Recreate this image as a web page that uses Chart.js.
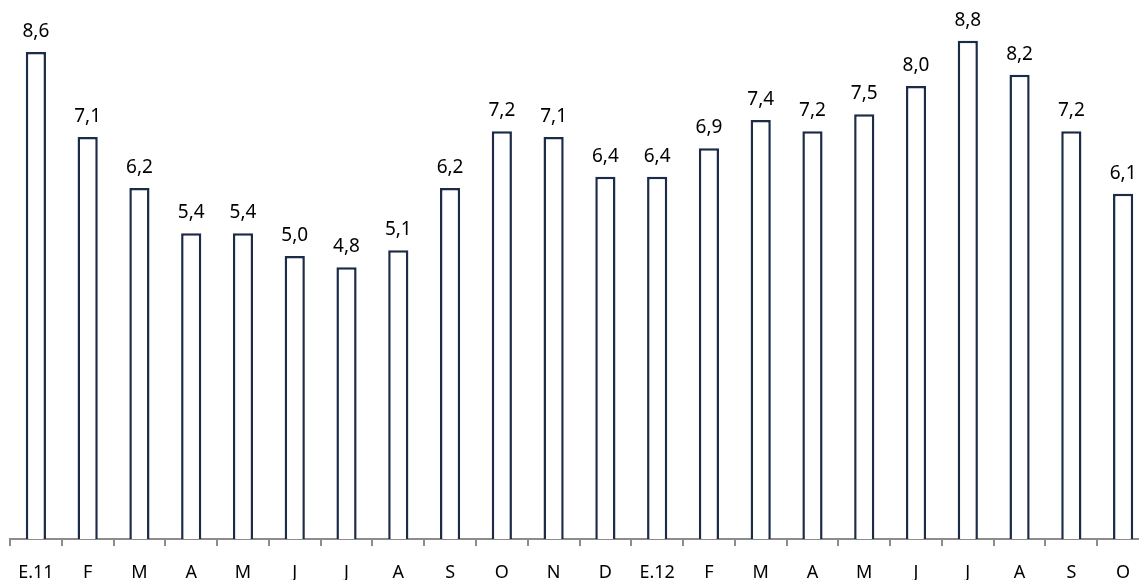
<!DOCTYPE html>
<html>
<head>
<meta charset="utf-8">
<script src="https://cdn.jsdelivr.net/npm/chart.js@4"></script>
<style>
  html, body { margin: 0; padding: 0; background: #fff; overflow: hidden; }
  #wrap { width: 1149px; height: 580px; position: relative; }
</style>
</head>
<body>
<div id="wrap"><canvas id="chart"></canvas></div>
<script>
const months = ['E.11', 'F', 'M', 'A', 'M', 'J', 'J', 'A', 'S', 'O', 'N', 'D',
  'E.12', 'F', 'M', 'A', 'M', 'J', 'J', 'A', 'S', 'O'];
const values = [8.6, 7.1, 6.2, 5.4, 5.4, 5.0, 4.8, 5.1, 6.2, 7.2, 7.1, 6.4,
  6.4, 6.9, 7.4, 7.2, 7.5, 8.0, 8.8, 8.2, 7.2, 6.1];

const fontFamily = '"Noto Sans", "Open Sans", sans-serif';

// value labels above each bar, comma decimal
const barLabels = {
  id: 'barLabels',
  afterDatasetsDraw(chart) {
    const ctx = chart.ctx;
    const meta = chart.getDatasetMeta(0);
    ctx.save();
    ctx.font = '19px ' + fontFamily;
    ctx.fillStyle = '#000';
    ctx.textAlign = 'center';
    ctx.textBaseline = 'alphabetic';
    meta.data.forEach((bar, i) => {
      ctx.fillText(values[i].toFixed(1).replace('.', ','), bar.x, bar.y - 15);
    });
    ctx.restore();
  }
};

new Chart(document.getElementById('chart'), {
  type: 'bar',
  data: {
    labels: months,
    datasets: [{
      data: values,
      backgroundColor: '#ffffff',
      borderColor: '#1c2b47',
      borderWidth: 2.5,
      categoryPercentage: 1,
      barPercentage: 0.39,
    }],
  },
  options: {
    responsive: true,
    maintainAspectRatio: false,
    animation: false,
    layout: { padding: { left: 10, right: 0, top: 0, bottom: 0 } },
    plugins: {
      legend: { display: false },
      tooltip: { enabled: false },
    },
    scales: {
      x: {
        offset: true,
        afterFit: (scale) => { scale.height = 41; },
        border: { color: '#8c8c8c', width: 2 },
        grid: {
          offset: true,
          drawOnChartArea: false,
          drawTicks: true,
          tickLength: 7,
          color: '#8c8c8c',
          lineWidth: 2,
        },
        ticks: {
          color: '#000',
          padding: 16,
          maxRotation: 0,
          autoSkip: false,
          font: { family: fontFamily, size: 18 },
        },
      },
      y: {
        display: false,
        min: 0,
        max: 9.52,
      },
    },
  },
  plugins: [barLabels],
});
</script>
</body>
</html>
